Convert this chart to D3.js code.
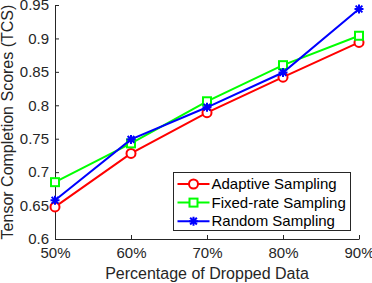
<!DOCTYPE html>
<html>
<head>
<meta charset="utf-8">
<script src="https://d3js.org/d3.v7.min.js"></script>
<style>
  body { margin: 0; background: #fff; }
  svg { font-family: "Liberation Sans", Arial, sans-serif; }
</style>
</head>
<body>
<svg width="372" height="283"></svg>
<script>
// data
var categories = ["50%", "60%", "70%", "80%", "90%"];
var adaptive = [0.648, 0.728, 0.789, 0.842, 0.894];
var fixedRate = [0.685, 0.743, 0.806, 0.860, 0.904];
var random = [0.658, 0.749, 0.797, 0.849, 0.944];
var yTicks = [0.6, 0.65, 0.7, 0.75, 0.8, 0.85, 0.9, 0.95];
var seriesNames = ["Adaptive Sampling", "Fixed-rate Sampling", "Random Sampling"];

var series = [
  {name: seriesNames[0], values: adaptive, color: "#ff0000", marker: "circle"},
  {name: seriesNames[1], values: fixedRate, color: "#00ff00", marker: "square"},
  {name: seriesNames[2], values: random, color: "#0000ff", marker: "star"}
];

var svg = d3.select("svg"),
    margin = {top: 5, right: 13, bottom: 44, left: 55},
    width = +svg.attr("width") - margin.left - margin.right,
    height = +svg.attr("height") - margin.top - margin.bottom;

var x = d3.scalePoint().domain(categories).range([0, width]),
    y = d3.scaleLinear().domain([0.6, 0.95]).range([height, 0]);

var g = svg.append("g")
    .attr("transform", "translate(" + margin.left + "," + margin.top + ")");

var axisColor = "#262626";

// x as
var gx = g.append("g")
    .attr("transform", "translate(0," + height + ")")
    .call(d3.axisBottom(x).tickSizeInner(-4).tickSizeOuter(0).tickPadding(8));
gx.selectAll("text").attr("font-size", 15).attr("fill", axisColor).attr("dy", "0.75em");

// y as
var gy = g.append("g")
    .call(d3.axisLeft(y).tickValues(yTicks).tickFormat(d3.format("")).tickSizeInner(-4).tickSizeOuter(0).tickPadding(6));
gy.selectAll("text").attr("font-size", 15).attr("fill", axisColor);

[gx, gy].forEach(function(a) {
  a.select(".domain").attr("stroke", axisColor).attr("stroke-width", 1);
  a.selectAll(".tick line").attr("stroke", axisColor);
  a.attr("font-family", null);
});

// labels
svg.append("text")
    .attr("x", margin.left + width / 2)
    .attr("y", 279)
    .attr("text-anchor", "middle")
    .attr("font-size", 16)
    .attr("fill", axisColor)
    .text("Percentage of Dropped Data");

svg.append("text")
    .attr("transform", "translate(13," + (margin.top + height / 2) + ") rotate(-90)")
    .attr("text-anchor", "middle")
    .attr("font-size", 16)
    .attr("fill", axisColor)
    .text("Tensor Completion Scores (TCS)");

function drawMarker(sel, type, color) {
  if (type === "circle") {
    sel.append("circle").attr("r", 4.5).attr("fill", "white")
      .attr("stroke", color).attr("stroke-width", 2);
  } else if (type === "square") {
    sel.append("rect").attr("x", -4).attr("y", -4).attr("width", 8).attr("height", 8)
      .attr("fill", "white").attr("stroke", color).attr("stroke-width", 2);
  } else {
    var r = 4.5, d = r * 0.75;
    sel.append("path")
      .attr("d", "M" + (-r) + ",0L" + r + ",0M0," + (-r) + "L0," + r +
        "M" + (-d) + "," + (-d) + "L" + d + "," + d + "M" + (-d) + "," + d + "L" + d + "," + (-d))
      .attr("stroke", color).attr("stroke-width", 2).attr("fill", "none");
  }
}

var line = d3.line()
    .x(function(d, i) { return x(categories[i]); })
    .y(function(d) { return y(d); });

series.forEach(function(s) {
  g.append("path")
      .datum(s.values)
      .attr("fill", "none")
      .attr("stroke", s.color)
      .attr("stroke-width", 2)
      .attr("d", line);
  s.values.forEach(function(v, i) {
    var m = g.append("g").attr("transform", "translate(" + x(categories[i]) + "," + y(v) + ")");
    drawMarker(m, s.marker, s.color);
  });
});

// legend
var lg = svg.append("g").attr("transform", "translate(173.5,172.5)");
lg.append("rect").attr("width", 177).attr("height", 58)
    .attr("fill", "white").attr("stroke", axisColor).attr("stroke-width", 1);
series.forEach(function(s, i) {
  var row = lg.append("g").attr("transform", "translate(0," + (11.5 + i * 18.6) + ")");
  row.append("line").attr("x1", 4).attr("x2", 36).attr("stroke", s.color).attr("stroke-width", 2);
  drawMarker(row.append("g").attr("transform", "translate(20,0)"), s.marker, s.color);
  row.append("text").attr("x", 38).attr("dy", "0.35em")
      .attr("font-size", 15).attr("fill", "black").text(s.name);
});
</script>
</body>
</html>
